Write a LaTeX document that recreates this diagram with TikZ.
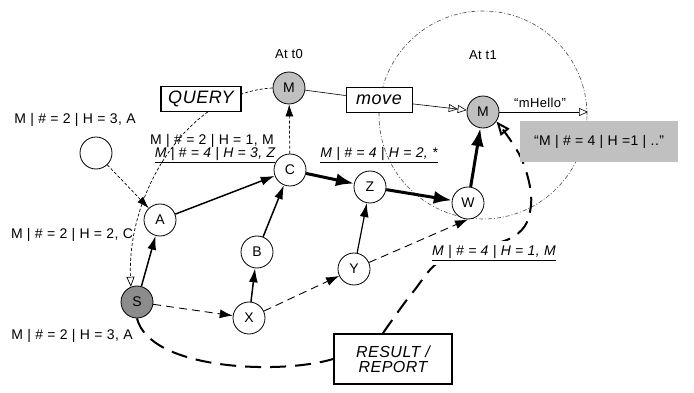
\documentclass[tikz,border=0pt]{standalone}
\usepackage{fontspec}
\setmainfont[LetterSpace=3]{Liberation Sans}
\usetikzlibrary{arrows.meta}
\pgfdeclarelayer{bg}
\pgfsetlayers{bg,main}
\definecolor{agentgray}{HTML}{C0C0C0}
\definecolor{srcgray}{HTML}{8C8C8C}
\definecolor{notegray}{HTML}{C0C0C0}
\newcommand{\fs}[1]{\fontsize{#1}{#1}\selectfont}

\begin{document}
\begin{tikzpicture}[x=1pt,y=-1pt,
  vtx/.style={circle, draw, line width=0.8pt, fill=white, minimum size=32pt, inner sep=0pt, font=\fs{14}},
  agent/.style={vtx, fill=agentgray},
  srcnode/.style={vtx, fill=srcgray},
  info/.style={inner sep=0pt, font=\fs{14}},
  ulabel/.style={inner sep=0pt, font=\itshape\fs{14}},
  boxthick/.style={draw, line width=1.8pt, fill=white, inner sep=2pt, font=\itshape\fs{18}},
  boxthin/.style={draw, line width=0.8pt, fill=white, inner sep=2pt, font=\itshape\fs{18}},
  solidarr/.style={line width=1.5pt, -{Latex[length=14pt,width=9pt]}},
  heavyarr/.style={line width=3pt, -{Latex[length=18pt,width=13pt]}},
  dasharr/.style={line width=0.9pt, dash pattern=on 8pt off 5pt, -{Latex[length=13pt,width=9pt]}},
  dotarr/.style={line width=0.7pt, dash pattern=on 3pt off 2pt, -{Latex[length=12pt,width=8pt]}},
  openarr/.style={line width=0.6pt, -{Triangle[open,length=9pt,width=8pt]}},
  dblarr/.style={line width=0.6pt, -{Triangle[open,length=9pt,width=8pt]Triangle[open,length=9pt,width=8pt]}},
  querycurve/.style={line width=0.7pt, dash pattern=on 3pt off 2pt, -{Triangle[open,length=10pt,width=8pt]}},
  resultcurve/.style={line width=2pt, dash pattern=on 16pt off 9pt},
  zone/.style={line width=0.6pt, dash pattern=on 4pt off 2pt on 1pt off 2pt, black!70}
]
\useasboundingbox (0,0) rectangle (694,393);

% vertices
\node[agent] (M0) at (289,88) {M};
\node[agent] (M1) at (483,112) {M};
\node[vtx] (C) at (290,170) {C};
\node[vtx] (E) at (96,153) {};
\node[vtx] (A) at (160,220) {A};
\node[vtx] (B) at (257,252) {B};
\node[srcnode] (S) at (137,302) {S};
\node[vtx] (X) at (249,318) {X};
\node[vtx] (Z) at (370,187) {Z};
\node[vtx] (W) at (468,203) {W};
\node[vtx] (Y) at (354,269) {Y};

% boxes
\node[boxthick, minimum width=80pt, minimum height=25pt] (Q) at (201,99) {QUERY};
\node[boxthin, minimum width=66pt, minimum height=25pt] (MV) at (379,100) {move};
\node[boxthick, minimum width=118pt, minimum height=50pt, align=center, font=\itshape\fs{16}] (R) at (393,359) {RESULT /\\[-1pt]REPORT};
\node[fill=notegray, minimum width=158pt, minimum height=41pt, font=\fs{14}] (G) at (599,141.5) {“M | \# = 4 | H =1 | ..”};

% texts
\node[info, font=\fs{13}] (t0) at (289,54) {At t0};
\node[info, font=\fs{13}] (t1) at (483,55) {At t1};
\node[info, font=\fs{13}] (hl) at (540,103) {“mHello”};
\node[info] (l1) at (75,120) {M | \# = 2 | H = 3, A};
\node[info] (l2) at (212,141) {M | \# = 2 | H = 1, M};
\node[info] (l3) at (72,235) {M | \# = 2 | H = 2, C};
\node[info] (l4) at (72,336) {M | \# = 2 | H = 3, A};
\node[ulabel] (u1) at (215,155) {\underline{M | \# = 4 | H = 3, Z}};
\node[ulabel] (u2) at (379,155) {\underline{M | \# = 4 | H = 2, *}};
\node[ulabel, fill=white, inner sep=4pt] (u3) at (494,253) {\underline{M | \# = 4 | H = 1, M}};

\coordinate (hend) at (588,112);

% background curves
\begin{pgfonlayer}{bg}
\draw[zone] (483,115) circle[radius=104pt];
\draw[querycurve] (M0.west) .. controls (190,92) and (127,190) .. (S.112);
\draw[resultcurve] (S.south) .. controls (150,370) and (280,375) .. (R.west);
\draw[resultcurve, -{Triangle[open,length=14pt,width=11pt]}]
  plot[smooth, tension=0.6] coordinates {([xshift=-10pt]R.north) (413,292) (445,258) (513,237) (531,205) (522,160) (M1.-35)};
\end{pgfonlayer}

% connectors
\draw[dotarr] (E) -- (A);
\draw[dotarr] (C) -- (M0);
\draw[solidarr] (S) -- (A);
\draw[solidarr] (A) -- (C);
\draw[solidarr] (X) -- (B);
\draw[solidarr] (B) -- (C);
\draw[solidarr, line width=1.2pt] (Y) -- (Z);
\draw[heavyarr] (C) -- (Z);
\draw[heavyarr] (Z) -- (W);
\draw[heavyarr] (W) -- (M1);
\draw[dasharr] (S) -- (X);
\draw[dasharr] (X) -- (Y);
\draw[dasharr] (Y) -- (W.south);
\draw[line width=0.6pt] (M0) -- (MV);
\draw[dblarr] (MV) -- (M1);
\draw[openarr] (M1.east) -- (hend);
\end{tikzpicture}
\end{document}
